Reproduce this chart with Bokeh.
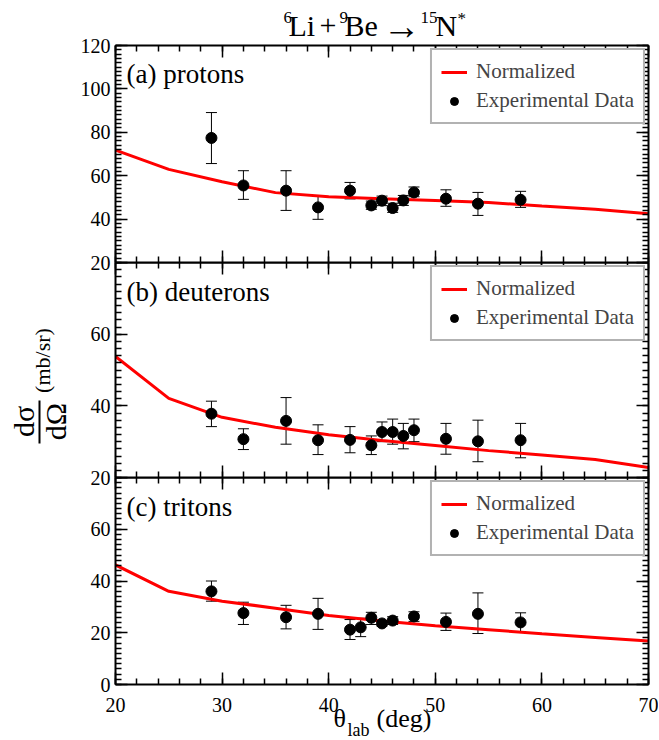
import math
from bokeh.plotting import figure
from bokeh.models import (Range1d, LinearAxis, SingleIntervalTicker, ColumnDataSource,
                          Whisker, TeeHead, Legend, LegendItem, Label, Arrow,
                          CustomJSTickFormatter)
from bokeh.layouts import column, row
from bokeh.embed import file_html
from bokeh.resources import INLINE

FONT = "Liberation Serif"

# ---------------- data ----------------
curve_x = [20, 25, 30, 35, 40, 45, 50, 55, 60, 65, 70]

prot_curve = [71.8, 62.9, 57.2, 52.2, 50.3, 49.4, 48.6, 47.6, 46.0, 44.5, 42.5]
prot_x = [29, 32, 36, 39, 42, 44, 45, 46, 47, 48, 51, 54, 58]
prot_y = [77.4, 55.5, 53.1, 45.4, 53.1, 46.3, 48.5, 45.1, 48.6, 52.3, 49.4, 47.1, 48.9]
prot_hi = [89.1, 62.3, 62.3, 50.8, 56.9, 48.3, 50.6, 47.3, 50.9, 54.8, 53.5, 52.3, 52.8]
prot_lo = [65.6, 49.1, 44.0, 39.9, 49.3, 44.5, 46.2, 43.1, 46.3, 50.3, 45.9, 41.7, 45.4]

deut_curve = [53.8, 42.1, 36.8, 34.0, 31.9, 30.3, 28.9, 27.5, 26.3, 25.0, 22.8]
deut_x = [29, 32, 36, 39, 42, 44, 45, 46, 47, 48, 51, 54, 58]
deut_y = [37.8, 30.7, 35.8, 30.4, 30.5, 29.0, 32.7, 32.7, 31.6, 33.2, 30.8, 30.1, 30.4]
deut_hi = [41.3, 33.6, 42.3, 34.7, 34.2, 31.6, 35.5, 36.3, 35.1, 36.3, 35.1, 36.0, 35.1]
deut_lo = [34.2, 27.8, 29.3, 26.4, 26.9, 26.4, 30.0, 29.3, 28.0, 30.0, 26.5, 24.4, 25.5]

trit_curve = [46.2, 36.0, 32.2, 29.5, 26.7, 24.5, 22.7, 21.2, 19.6, 18.2, 16.8]
trit_x = [29, 32, 36, 39, 42, 43, 44, 45, 46, 48, 51, 54, 58]
trit_y = [36.0, 27.6, 26.0, 27.3, 21.2, 22.1, 25.8, 23.6, 24.7, 26.3, 24.2, 27.3, 24.0]
trit_hi = [40.0, 31.8, 30.6, 33.3, 25.1, 25.6, 27.9, 24.6, 26.2, 28.1, 27.6, 35.4, 27.7]
trit_lo = [32.2, 23.2, 21.5, 21.3, 17.4, 18.5, 23.2, 22.6, 23.2, 24.4, 20.9, 19.7, 20.4]

panel_names = ["(a) protons", "(b) deuterons", "(c) tritons"]
y_ranges = [(20, 120), (20, 80), (0, 80)]
x_range = (20, 70)
legend_labels = ["Normalized", "Experimental Data"]

# ---------------- layout (page pixels) ----------------
PAGE_W, PAGE_H = 658, 739
YLAB_W = 75                      # strip on the left holding the y axis title
FX0, FW = 115, 533               # frame left edge and width (page px)
RIGHT_B = PAGE_W - FX0 - FW
LEFT_B = FX0 - YLAB_W
frames = [(45, 217), (262, 215), (477, 207)]  # (top, height)
OVER = 14
BOTTOM_BORDER = PAGE_H - (frames[2][0] + frames[2][1])


def style_axis(ax, show_labels):
    ax.axis_line_width = 2
    ax.axis_line_color = "black"
    ax.major_tick_in = 12
    ax.major_tick_out = 0
    ax.minor_tick_in = 6
    ax.minor_tick_out = 0
    ax.major_tick_line_width = 1.5
    ax.minor_tick_line_width = 1.5
    ax.major_tick_line_color = "black"
    ax.minor_tick_line_color = "black"
    ax.major_label_text_font = FONT
    ax.major_label_text_color = "black"
    ax.major_label_text_font_size = "20px"
    ax.axis_label = None
    if not show_labels:
        ax.formatter = CustomJSTickFormatter(code="return ''")
        ax.major_label_standoff = 0


def make_panel(idx, xs, ys, hi, lo, curve):
    ymin, ymax = y_ranges[idx]
    top_b = frames[0][0] if idx == 0 else 0
    bot_b = BOTTOM_BORDER if idx == 2 else OVER
    p = figure(frame_width=FW, frame_height=frames[idx][1],
               x_range=Range1d(*x_range), y_range=Range1d(ymin, ymax),
               x_axis_type=None, y_axis_type=None, title_location=None,
               toolbar_location=None, output_backend="svg",
               min_border_left=LEFT_B, min_border_right=RIGHT_B,
               min_border_top=top_b, min_border_bottom=bot_b,
               background_fill_alpha=0, border_fill_alpha=0,
               outline_line_color=None)
    if idx > 0:
        p.margin = (-OVER, 0, 0, 0)

    xb = LinearAxis(ticker=SingleIntervalTicker(interval=10, num_minor_ticks=5))
    style_axis(xb, idx == 2)
    if idx == 2:
        xb.major_label_standoff = 13
    xa = LinearAxis(ticker=SingleIntervalTicker(interval=10, num_minor_ticks=5))
    style_axis(xa, False)
    yl = LinearAxis(ticker=SingleIntervalTicker(interval=20, num_minor_ticks=10))
    style_axis(yl, True)
    yl.major_label_standoff = 5
    if idx > 0:
        yl.major_label_overrides = {80: ""}
    yr = LinearAxis(ticker=SingleIntervalTicker(interval=20, num_minor_ticks=10))
    style_axis(yr, False)
    p.add_layout(xb, "below")
    p.add_layout(xa, "above")
    p.add_layout(yl, "left")
    p.add_layout(yr, "right")

    ln = p.line(curve_x, curve, line_color="#ff0000", line_width=3)
    src = ColumnDataSource(dict(x=xs, y=ys, hi=hi, lo=lo))
    wh = Whisker(base="x", upper="hi", lower="lo", source=src, dimension="height",
                 line_color="black", line_width=1,
                 upper_head=TeeHead(size=11, line_color="black", line_width=1),
                 lower_head=TeeHead(size=11, line_color="black", line_width=1))
    p.add_layout(wh)
    pts = p.scatter("x", "y", source=src, size=11, color="black")

    leg = Legend(items=[LegendItem(label=legend_labels[0], renderers=[ln]),
                        LegendItem(label=legend_labels[1], renderers=[pts])],
                 location="top_right", margin=3, padding=9, spacing=4,
                 glyph_width=26, glyph_height=20, label_height=20, label_standoff=9,
                 label_text_font=FONT, label_text_font_size="21px",
                 border_line_color="#666666", border_line_width=2,
                 background_fill_color="white", background_fill_alpha=1)
    p.add_layout(leg)
    return p


p1 = make_panel(0, prot_x, prot_y, prot_hi, prot_lo, prot_curve)
p2 = make_panel(1, deut_x, deut_y, deut_hi, deut_lo, deut_curve)
p3 = make_panel(2, trit_x, trit_y, trit_hi, trit_lo, trit_curve)

# ---------------- transparent overlay (same frame as panels, page coords) ----------------
ov = figure(frame_width=FW, frame_height=PAGE_H,
            x_range=Range1d(FX0, FX0 + FW), y_range=Range1d(PAGE_H, 0),
            x_axis_type=None, y_axis_type=None, title_location=None,
            toolbar_location=None, output_backend="svg",
            min_border_left=LEFT_B, min_border_right=RIGHT_B,
            min_border_top=0, min_border_bottom=0,
            background_fill_alpha=0, border_fill_alpha=0, outline_line_color=None)
ov.margin = (-PAGE_H, 0, 0, 0)

# ---------------- strip on the left for the y axis title ----------------
yl_fig = figure(frame_width=YLAB_W, frame_height=PAGE_H,
                x_range=Range1d(0, YLAB_W), y_range=Range1d(PAGE_H, 0),
                x_axis_type=None, y_axis_type=None, title_location=None,
                toolbar_location=None, output_backend="svg", min_border=0,
                background_fill_alpha=0, border_fill_alpha=0, outline_line_color=None)


def txt(fig, t, x, y, size, align="left", baseline="middle", angle=0.0):
    fig.add_layout(Label(x=x, y=y, text=t, text_font=FONT, text_font_size=size,
                         text_align=align, text_baseline=baseline, angle=angle,
                         text_color="black"))


# title  6Li + 9Be -> 15N*
for t, px, py, fs in [("6", 283, 17, "17px"), ("Li", 288, 25, "30px"), ("+", 319, 25, "30px"),
                      ("9", 339, 17, "17px"), ("Be", 344, 25, "30px"),
                      ("\u2192", 382, 25, "38px"), ("15", 420, 17, "17px"),
                      ("N", 435, 25, "30px"), ("*", 457, 18, "17px")]:
    txt(ov, t, px, py, fs)

# panel labels
for name, py in zip(panel_names, [73, 291, 506]):
    txt(ov, name, 126, py, "27px")

# x axis title  theta_lab (deg)
txt(ov, "\u03b8", 333, 718, "26px")
txt(ov, "lab", 347, 729, "18px")
txt(ov, "(deg)", 376, 718, "26px")

# y axis title  d sigma / d Omega (mb/sr)
txt(yl_fig, "d\u03c3", 23, 421, "30px", align="center", angle=math.pi / 2)
txt(yl_fig, "d\u03a9", 55, 421, "30px", align="center", angle=math.pi / 2)
yl_fig.add_layout(Arrow(x_start=39, y_start=400, x_end=39, y_end=443, start=None, end=None,
                        line_color="black", line_width=2))
txt(yl_fig, "(mb/sr)", 42, 360, "22px", align="center", angle=math.pi / 2)

layout = row(yl_fig, column(p1, p2, p3, ov, spacing=0), spacing=0)
open("out.html", "w").write(file_html(layout, INLINE))
